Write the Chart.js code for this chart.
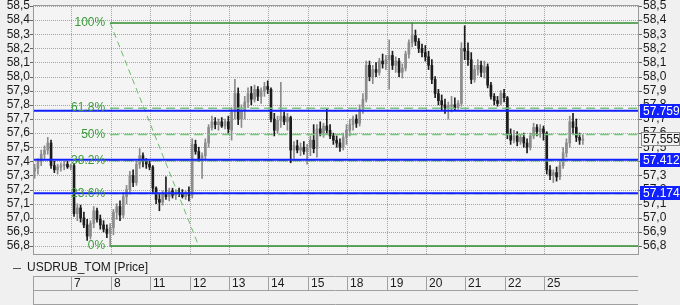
<!DOCTYPE html>
<html>
<head>
<meta charset="utf-8">
<script src="https://cdn.jsdelivr.net/npm/chart.js@4.4.0/dist/chart.umd.min.js"></script>
<style>
  html, body { margin: 0; padding: 0; background: #f0f0f0; }
  #wrap { width: 680px; height: 305px; }
</style>
</head>
<body>
<div id="wrap"><canvas id="chart" width="680" height="305"></canvas></div>
<script>
// trading days shown on the date strip, 12 intraday bars each
const days = ['6', '7', '8', '11', '12', '13', '14', '15', '18', '19', '20', '21', '22', '25'];
const barsPerDay = 12;

const opens = [
  57.33, 57.35, 57.40, 57.45, 57.48, 57.53, 57.37, 57.34, 57.36, 57.37, 57.38, 57.36, // 6
  57.37, 57.03, 57.07, 57.00, 56.95, 56.87, 56.96, 57.05, 56.99, 56.95, 56.92, 56.89, // 7
  56.93, 57.04, 57.08, 57.02, 57.15, 57.20, 57.30, 57.25, 57.38, 57.44, 57.40, 57.38, // 8
  57.36, 57.21, 57.13, 57.11, 57.17, 57.15, 57.19, 57.16, 57.18, 57.17, 57.15, 57.18, // 11
  57.16, 57.52, 57.47, 57.42, 57.44, 57.53, 57.64, 57.68, 57.66, 57.68, 57.65, 57.68, // 12
  57.62, 57.75, 57.88, 57.70, 57.76, 57.82, 57.88, 57.84, 57.91, 57.86, 57.90, 57.93, // 13
  57.91, 57.70, 57.62, 57.69, 57.72, 57.68, 57.71, 57.48, 57.51, 57.48, 57.50, 57.47, // 14
  57.50, 57.55, 57.49, 57.63, 57.60, 57.65, 57.62, 57.58, 57.55, 57.53, 57.50, 57.57, // 15
  57.62, 57.66, 57.70, 57.67, 57.77, 57.84, 58.08, 58.00, 58.05, 58.03, 58.11, 58.09, // 18
  58.12, 58.15, 58.08, 58.11, 58.03, 58.06, 58.16, 58.24, 58.29, 58.25, 58.20, 58.17, // 19
  58.14, 58.08, 57.98, 57.88, 57.83, 57.80, 57.78, 57.79, 57.80, 57.78, 57.81, 58.20, // 20
  58.18, 58.12, 57.98, 58.05, 58.08, 58.03, 58.07, 57.94, 57.86, 57.83, 57.81, 57.88, // 21
  57.85, 57.59, 57.55, 57.58, 57.54, 57.57, 57.53, 57.50, 57.58, 57.64, 57.61, 57.63, // 22
  57.60, 57.34, 57.30, 57.32, 57.29, 57.37, 57.46, 57.53, 57.68, 57.64, 57.57, 57.55  // 25
];
const highs = [
  57.38, 57.42, 57.48, 57.51, 57.57, 57.55, 57.40, 57.38, 57.39, 57.40, 57.40, 57.38,
  57.38, 57.10, 57.09, 57.04, 56.99, 56.98, 57.08, 57.07, 57.02, 56.98, 56.95, 56.96,
  57.06, 57.10, 57.12, 57.18, 57.23, 57.33, 57.34, 57.40, 57.49, 57.46, 57.42, 57.40,
  57.37, 57.22, 57.17, 57.19, 57.29, 57.21, 57.21, 57.20, 57.21, 57.20, 57.19, 57.22,
  57.56, 57.55, 57.50, 57.46, 57.56, 57.66, 57.72, 57.71, 57.70, 57.71, 57.70, 57.72,
  57.78, 57.98, 57.92, 57.80, 57.86, 57.92, 57.93, 57.94, 57.93, 57.92, 57.96, 57.97,
  57.92, 57.74, 57.72, 57.96, 57.75, 57.74, 57.72, 57.54, 57.55, 57.53, 57.54, 57.52,
  57.58, 57.66, 57.66, 57.68, 57.67, 57.77, 57.66, 57.60, 57.58, 57.56, 57.60, 57.66,
  57.70, 57.72, 57.73, 57.80, 57.88, 58.11, 58.11, 58.08, 58.10, 58.13, 58.16, 58.15,
  58.26, 58.18, 58.14, 58.13, 58.09, 58.18, 58.26, 58.38, 58.33, 58.27, 58.23, 58.22,
  58.18, 58.12, 58.00, 57.91, 57.87, 57.84, 57.82, 57.86, 57.85, 57.83, 58.24, 58.36,
  58.24, 58.17, 58.08, 58.12, 58.11, 58.11, 58.09, 57.96, 57.88, 57.86, 57.90, 57.91,
  57.86, 57.63, 57.62, 57.61, 57.59, 57.60, 57.56, 57.60, 57.67, 57.66, 57.66, 57.65,
  57.61, 57.37, 57.34, 57.36, 57.40, 57.50, 57.56, 57.72, 57.74, 57.70, 57.60, 57.59
];
const lows = [
  57.28, 57.31, 57.37, 57.42, 57.45, 57.35, 57.32, 57.31, 57.33, 57.34, 57.35, 57.34,
  57.01, 56.98, 56.97, 56.93, 56.84, 56.85, 56.93, 56.97, 56.92, 56.90, 56.86, 56.80,
  56.88, 56.99, 56.98, 57.00, 57.10, 57.17, 57.22, 57.23, 57.35, 57.36, 57.35, 57.34,
  57.18, 57.10, 57.05, 57.09, 57.13, 57.12, 57.14, 57.13, 57.15, 57.14, 57.13, 57.12,
  57.14, 57.45, 57.40, 57.28, 57.41, 57.50, 57.62, 57.63, 57.62, 57.64, 57.63, 57.60,
  57.55, 57.70, 57.66, 57.64, 57.70, 57.78, 57.80, 57.82, 57.83, 57.81, 57.86, 57.88,
  57.68, 57.58, 57.60, 57.64, 57.66, 57.62, 57.39, 57.42, 57.46, 57.44, 57.45, 57.38,
  57.44, 57.46, 57.43, 57.58, 57.57, 57.60, 57.56, 57.52, 57.50, 57.47, 57.48, 57.52,
  57.58, 57.62, 57.64, 57.65, 57.74, 57.82, 57.97, 57.95, 58.00, 58.01, 58.06, 58.05,
  57.91, 58.05, 58.03, 58.00, 57.99, 58.04, 58.13, 58.21, 58.22, 58.17, 58.14, 58.11,
  58.05, 57.95, 57.85, 57.80, 57.76, 57.74, 57.70, 57.75, 57.76, 57.77, 57.79, 58.12,
  58.08, 57.95, 57.96, 58.01, 58.00, 57.99, 57.92, 57.84, 57.80, 57.79, 57.80, 57.82,
  57.56, 57.52, 57.53, 57.51, 57.52, 57.50, 57.46, 57.48, 57.56, 57.58, 57.57, 57.55,
  57.31, 57.27, 57.25, 57.26, 57.27, 57.35, 57.43, 57.50, 57.60, 57.54, 57.52, 57.52
];
const closes = [
  57.35, 57.40, 57.45, 57.48, 57.53, 57.37, 57.34, 57.36, 57.37, 57.38, 57.36, 57.37,
  57.03, 57.07, 57.00, 56.95, 56.87, 56.96, 57.05, 56.99, 56.95, 56.92, 56.89, 56.93,
  57.04, 57.08, 57.02, 57.15, 57.20, 57.30, 57.25, 57.38, 57.44, 57.40, 57.38, 57.36,
  57.21, 57.13, 57.11, 57.17, 57.15, 57.19, 57.16, 57.18, 57.17, 57.15, 57.18, 57.16,
  57.52, 57.47, 57.42, 57.44, 57.53, 57.64, 57.68, 57.66, 57.68, 57.65, 57.68, 57.63,
  57.75, 57.88, 57.70, 57.76, 57.82, 57.88, 57.84, 57.91, 57.86, 57.90, 57.93, 57.91,
  57.70, 57.62, 57.69, 57.72, 57.68, 57.71, 57.48, 57.51, 57.48, 57.50, 57.47, 57.50,
  57.55, 57.49, 57.63, 57.60, 57.65, 57.62, 57.58, 57.55, 57.53, 57.50, 57.57, 57.62,
  57.66, 57.70, 57.67, 57.77, 57.84, 58.08, 58.00, 58.05, 58.03, 58.11, 58.09, 58.12,
  58.15, 58.08, 58.11, 58.03, 58.06, 58.16, 58.24, 58.29, 58.25, 58.20, 58.17, 58.14,
  58.08, 57.98, 57.88, 57.83, 57.80, 57.78, 57.79, 57.80, 57.78, 57.81, 58.20, 58.18,
  58.12, 57.98, 58.05, 58.08, 58.03, 58.07, 57.94, 57.86, 57.83, 57.81, 57.88, 57.85,
  57.59, 57.55, 57.58, 57.54, 57.57, 57.53, 57.50, 57.58, 57.64, 57.61, 57.63, 57.60,
  57.34, 57.30, 57.32, 57.29, 57.37, 57.46, 57.53, 57.68, 57.64, 57.57, 57.55, 57.555
];

const yTicks = [56.8, 56.9, 57.0, 57.1, 57.2, 57.3, 57.4, 57.5, 57.6, 57.7, 57.8, 57.9,
                58.0, 58.1, 58.2, 58.3, 58.4, 58.5];

// fibonacci retracement drawn on the chart
const fibLow = 56.80;
const fibHigh = 58.38;
const fibRatios = [0, 0.236, 0.382, 0.5, 0.618, 1];
const fibLabels = ['0%', '23.6%', '38.2%', '50%', '61.8%', '100%'];
const fibStartX = 23.5;
const fibDiagEndX = 50.5;

// horizontal level lines with their labels on the price axis
const levelLines = [57.759, 57.412, 57.174];
const levelLabels = ['57.759', '57.412', '57.174'];
const lastPrice = 57.555;
const lastPriceLabel = '57,555';

const xMax = 184.6;
const FONT = '"Liberation Sans", Arial, sans-serif';

const upColor = '#8c8c8c';
const downColor = '#1c1c1c';
const candleColors = closes.map((c, i) => (c >= opens[i] ? upColor : downColor));

const fibDatasets = fibRatios.map(r => {
  const v = fibLow + (fibHigh - fibLow) * r;
  const solid = r === 0 || r === 1;
  return {
    type: 'line',
    data: [{ x: fibStartX, y: v }, { x: xMax, y: v }],
    borderColor: solid ? '#2f8f2f' : '#7cc47c',
    borderWidth: 1.5,
    borderDash: solid ? [] : [9, 5],
    pointRadius: 0,
    order: 1
  };
});

const levelDatasets = levelLines.map(v => ({
  type: 'line',
  data: [{ x: 0, y: v }, { x: xMax, y: v }],
  borderColor: '#1020ff',
  borderWidth: 2,
  pointRadius: 0,
  order: 0
}));

const tickLabel = v => v.toFixed(1).replace('.', ',');

// fixed axis widths; drop the label overhang padding so the plot starts at the top
const fitAxis = w => s => {
  s.width = w;
  s.paddingTop = 0;
  s.paddingBottom = 0;
};

const overlay = {
  id: 'overlay',
  beforeDraw(chart) {
    const { ctx, chartArea: a } = chart;
    ctx.save();
    ctx.fillStyle = '#f0f0f0';
    ctx.fillRect(0, 0, chart.width, chart.height);
    ctx.fillStyle = '#f4f4f4';
    ctx.fillRect(a.left, a.top, a.right - a.left, a.bottom - a.top);
    ctx.restore();
  },
  beforeDatasetsDraw(chart) {
    // dotted grid at the scale ticks, with small tick marks outside the plot
    const { ctx, chartArea: a } = chart;
    const xs = chart.scales.x;
    const ys = chart.scales.y;
    ctx.save();
    ctx.lineWidth = 1;
    ctx.strokeStyle = '#a4a4a4';
    ctx.setLineDash([1, 1]);
    ctx.beginPath();
    ys.ticks.forEach(t => {
      const y = Math.round(ys.getPixelForValue(t.value)) + 0.5;
      ctx.moveTo(a.left, y);
      ctx.lineTo(a.right, y);
    });
    xs.ticks.forEach(t => {
      const x = Math.round(xs.getPixelForValue(t.value)) - 0.5;
      ctx.moveTo(x, a.top);
      ctx.lineTo(x, a.bottom);
    });
    ctx.stroke();
    ctx.setLineDash([]);
    ctx.strokeStyle = '#666';
    ctx.beginPath();
    ys.ticks.forEach(t => {
      const y = Math.round(ys.getPixelForValue(t.value)) + 0.5;
      ctx.moveTo(a.left - 3, y);
      ctx.lineTo(a.left, y);
      ctx.moveTo(a.right, y);
      ctx.lineTo(a.right + 3, y);
    });
    ctx.stroke();
    ctx.restore();
  },
  afterDraw(chart) {
    const { ctx, chartArea: a } = chart;
    const xs = chart.scales.x;
    const ys = chart.scales.y;
    ctx.save();

    // fib labels
    ctx.font = '12px ' + FONT;
    ctx.fillStyle = '#3a9a3a';
    ctx.textAlign = 'right';
    ctx.textBaseline = 'middle';
    const lx = xs.getPixelForValue(fibStartX) - 5;
    fibRatios.forEach((r, k) => {
      const v = fibLow + (fibHigh - fibLow) * r;
      ctx.fillText(fibLabels[k], lx, ys.getPixelForValue(v));
    });

    // plot border
    ctx.strokeStyle = '#9a9a9a';
    ctx.lineWidth = 1;
    ctx.strokeRect(a.left + 0.5, a.top + 0.5, a.right - a.left - 1, a.bottom - a.top);

    // last price box
    ctx.textAlign = 'left';
    const py = Math.round(ys.getPixelForValue(lastPrice));
    ctx.fillStyle = '#f4f4f4';
    ctx.fillRect(641, py - 7, 39, 14);
    ctx.strokeStyle = '#8a8a8a';
    ctx.strokeRect(641.5, py - 6.5, 38, 13);
    ctx.fillStyle = '#111';
    ctx.fillText(lastPriceLabel, 643, py + 0.5);

    // level boxes on the price axis
    levelLines.forEach((v, k) => {
      const y = Math.round(ys.getPixelForValue(v));
      ctx.fillStyle = '#1020ff';
      ctx.fillRect(640, y - 7, 40, 14);
      ctx.fillStyle = '#ffffff';
      ctx.fillText(levelLabels[k], 643, y + 0.5);
    });

    // legend
    ctx.strokeStyle = '#555';
    ctx.beginPath();
    ctx.moveTo(13, 268.5);
    ctx.lineTo(21, 268.5);
    ctx.stroke();
    ctx.fillStyle = '#1a1a1a';
    ctx.fillText('USDRUB_TOM [Price]', 27, 268);

    // date strip
    ctx.strokeStyle = '#a0a0a0';
    ctx.beginPath();
    [276.5, 290.5, 304.5].forEach(y => {
      ctx.moveTo(33, y);
      ctx.lineTo(638, y);
    });
    ctx.moveTo(33.5, 276);
    ctx.lineTo(33.5, 305);
    for (let k = 1; k < days.length; k++) {
      const x = Math.round(xs.getPixelForValue(k * barsPerDay)) - 0.5;
      ctx.moveTo(x, 276);
      ctx.lineTo(x, 290);
    }
    ctx.stroke();
    ctx.fillStyle = '#1a1a1a';
    for (let k = 1; k < days.length; k++) {
      const x = Math.round(xs.getPixelForValue(k * barsPerDay));
      ctx.fillText(days[k], x + 2, 283.5);
    }
    ctx.restore();
  }
};

new Chart(document.getElementById('chart'), {
  type: 'bar',
  data: {
    datasets: [
      ...levelDatasets,
      ...fibDatasets,
      {
        type: 'line',
        data: [{ x: fibStartX, y: fibHigh }, { x: fibDiagEndX, y: fibLow }],
        borderColor: '#6cbc6c',
        borderWidth: 1,
        borderDash: [6, 4],
        pointRadius: 0,
        order: 1
      },
      {
        data: lows.map((l, i) => ({ x: i + 0.5, y: [l, highs[i]] })),
        backgroundColor: candleColors,
        barThickness: 1,
        grouped: false,
        order: 3
      },
      {
        data: opens.map((o, i) => ({ x: i + 0.5, y: [o, closes[i]] })),
        backgroundColor: candleColors,
        barThickness: 2,
        minBarLength: 1,
        grouped: false,
        order: 2
      }
    ]
  },
  options: {
    responsive: false,
    animation: false,
    devicePixelRatio: 1,
    layout: { padding: { top: 5, bottom: 51, left: 0, right: 0 } },
    plugins: { legend: { display: false }, tooltip: { enabled: false } },
    scales: {
      x: {
        type: 'linear',
        min: 0,
        max: xMax,
        offset: false,
        afterBuildTicks: s => { s.ticks = days.slice(1).map((d, k) => ({ value: (k + 1) * barsPerDay })); },
        afterFit: s => { s.height = 0; s.paddingLeft = 0; s.paddingRight = 0; },
        ticks: { display: false, autoSkip: false },
        grid: { display: false, drawTicks: false },
        border: { display: false }
      },
      y: {
        position: 'left',
        min: 56.744,
        max: 58.507,
        afterBuildTicks: s => { s.ticks = yTicks.map(v => ({ value: v })); },
        afterFit: fitAxis(33),
        ticks: {
          autoSkip: false,
          padding: 3,
          color: '#1a1a1a',
          font: { family: FONT, size: 12 },
          callback: tickLabel
        },
        grid: { display: false, drawTicks: false },
        border: { display: false }
      },
      y2: {
        position: 'right',
        min: 56.744,
        max: 58.507,
        afterBuildTicks: s => { s.ticks = yTicks.map(v => ({ value: v })); },
        afterFit: fitAxis(41),
        ticks: {
          autoSkip: false,
          padding: 4,
          color: '#1a1a1a',
          font: { family: FONT, size: 12 },
          callback: tickLabel
        },
        grid: { display: false, drawTicks: false },
        border: { display: false }
      }
    }
  },
  plugins: [overlay]
});
</script>
</body>
</html>
